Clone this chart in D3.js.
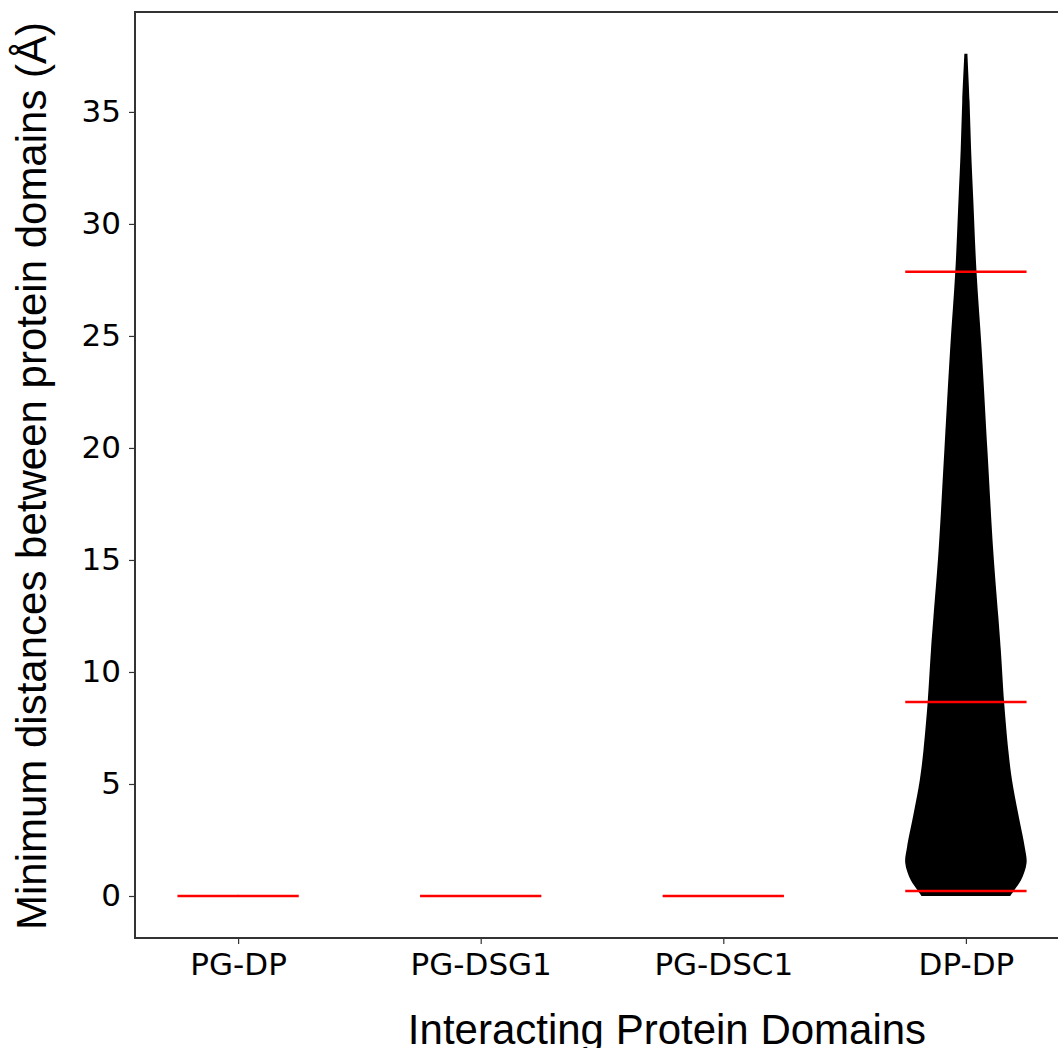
<!DOCTYPE html>
<html>
<head>
<meta charset="utf-8">
<script src="https://cdn.jsdelivr.net/npm/d3@7"></script>
<style>
  body { margin: 0; background: #fff; }
  svg { display: block; }
  .tick text { font-family: "DejaVu Sans", sans-serif; fill: #000; }
  .axis-label { font-family: "Liberation Sans", Arial, sans-serif; fill: #000; }
</style>
</head>
<body>
<svg></svg>
<script>
// categories on the x axis
const categories = ["PG-DP", "PG-DSG1", "PG-DSC1", "DP-DP"];

// red summary lines per category, in Å
const summaryLines = [
  [0],
  [0],
  [0],
  [0.22, 8.66, 27.86]
];

// DP-DP violin outline: distance values and relative density (1 = widest)
const dpValues  = [0, 0.27, 0.71, 1.47, 2.19, 3.7, 5.18, 6.5, 8.66, 11.0, 12.45, 15.45, 19.9, 24.4, 27.86, 31.07, 33.3, 35.5, 37.6];
const dpDensity = [0.73, 0.80, 0.91, 1.0, 0.97, 0.86, 0.76, 0.70, 0.63, 0.575, 0.535, 0.45, 0.355, 0.26, 0.175, 0.122, 0.086, 0.06, 0.025];

const yTicks = [0, 5, 10, 15, 20, 25, 30, 35];

const xLabel = "Interacting Protein Domains";
const yLabel = "Minimum distances between protein domains (Å)";

const width = 1058;
const height = 1048;
const margin = { top: 12, left: 135, bottom: 110 };
const plotRight = 1069; // right spine sits just past the picture edge
const violinWidth = 0.5;

const svg = d3.select("svg").attr("width", width).attr("height", height);

// matplotlib-style x limits around positions 1..4
const xScale = d3.scaleLinear()
  .domain([0.575, 4.425])
  .range([margin.left, plotRight]);

const yScale = d3.scaleLinear()
  .domain([-1.875, 39.46])
  .range([height - margin.bottom, margin.top]);

const halfPx = xScale(1 + violinWidth / 2) - xScale(1);

// violin body
const dpPos = categories.indexOf("DP-DP") + 1;
const violinData = dpValues.map((v, i) => ({ v: v, d: dpDensity[i] }));

const area = d3.area()
  .curve(d3.curveCatmullRom)
  .y((d) => yScale(d.v))
  .x0((d) => xScale(dpPos) - d.d * halfPx)
  .x1((d) => xScale(dpPos) + d.d * halfPx);

svg.append("path")
  .datum(violinData)
  .attr("d", area)
  .attr("fill", "#000");

// tiny sliver for PG-DP
svg.append("line")
  .attr("x1", xScale(1)).attr("x2", xScale(1))
  .attr("y1", yScale(0.05)).attr("y2", yScale(0))
  .attr("stroke", "#000").attr("stroke-width", 1);

// red lines
summaryLines.forEach((vals, i) => {
  svg.selectAll(null)
    .data(vals)
    .enter()
    .append("line")
    .attr("x1", xScale(i + 1) - halfPx)
    .attr("x2", xScale(i + 1) + halfPx)
    .attr("y1", (d) => yScale(d))
    .attr("y2", (d) => yScale(d))
    .attr("stroke", "#ff0000")
    .attr("stroke-width", 2.5);
});

// axes
const xAxis = d3.axisBottom(xScale)
  .tickValues(categories.map((c, i) => i + 1))
  .tickFormat((d) => categories[d - 1])
  .tickSize(6)
  .tickPadding(9);

const xAxisG = svg.append("g")
  .attr("transform", `translate(0,${height - margin.bottom})`)
  .call(xAxis);
xAxisG.select(".domain").remove();
xAxisG.selectAll(".tick line").attr("stroke", "#333").attr("stroke-width", 1.2);
xAxisG.selectAll(".tick text").attr("font-size", 31);

const yAxis = d3.axisLeft(yScale)
  .tickValues(yTicks)
  .tickSize(6)
  .tickPadding(8);

const yAxisG = svg.append("g")
  .attr("transform", `translate(${margin.left},0)`)
  .call(yAxis);
yAxisG.select(".domain").remove();
yAxisG.selectAll(".tick line").attr("stroke", "#333").attr("stroke-width", 1.2);
yAxisG.selectAll(".tick text").attr("font-size", 31);

// frame
svg.append("rect")
  .attr("x", margin.left)
  .attr("y", margin.top)
  .attr("width", plotRight - margin.left)
  .attr("height", height - margin.bottom - margin.top)
  .attr("fill", "none")
  .attr("stroke", "#333")
  .attr("stroke-width", 2);

// axis labels
svg.append("text")
  .attr("class", "axis-label")
  .attr("x", 667)
  .attr("y", 1044)
  .attr("text-anchor", "middle")
  .attr("font-size", 42)
  .text(xLabel);

svg.append("text")
  .attr("class", "axis-label")
  .attr("transform", "translate(46,930) rotate(-90)")
  .attr("text-anchor", "start")
  .attr("font-size", 42)
  .text(yLabel);
</script>
</body>
</html>
